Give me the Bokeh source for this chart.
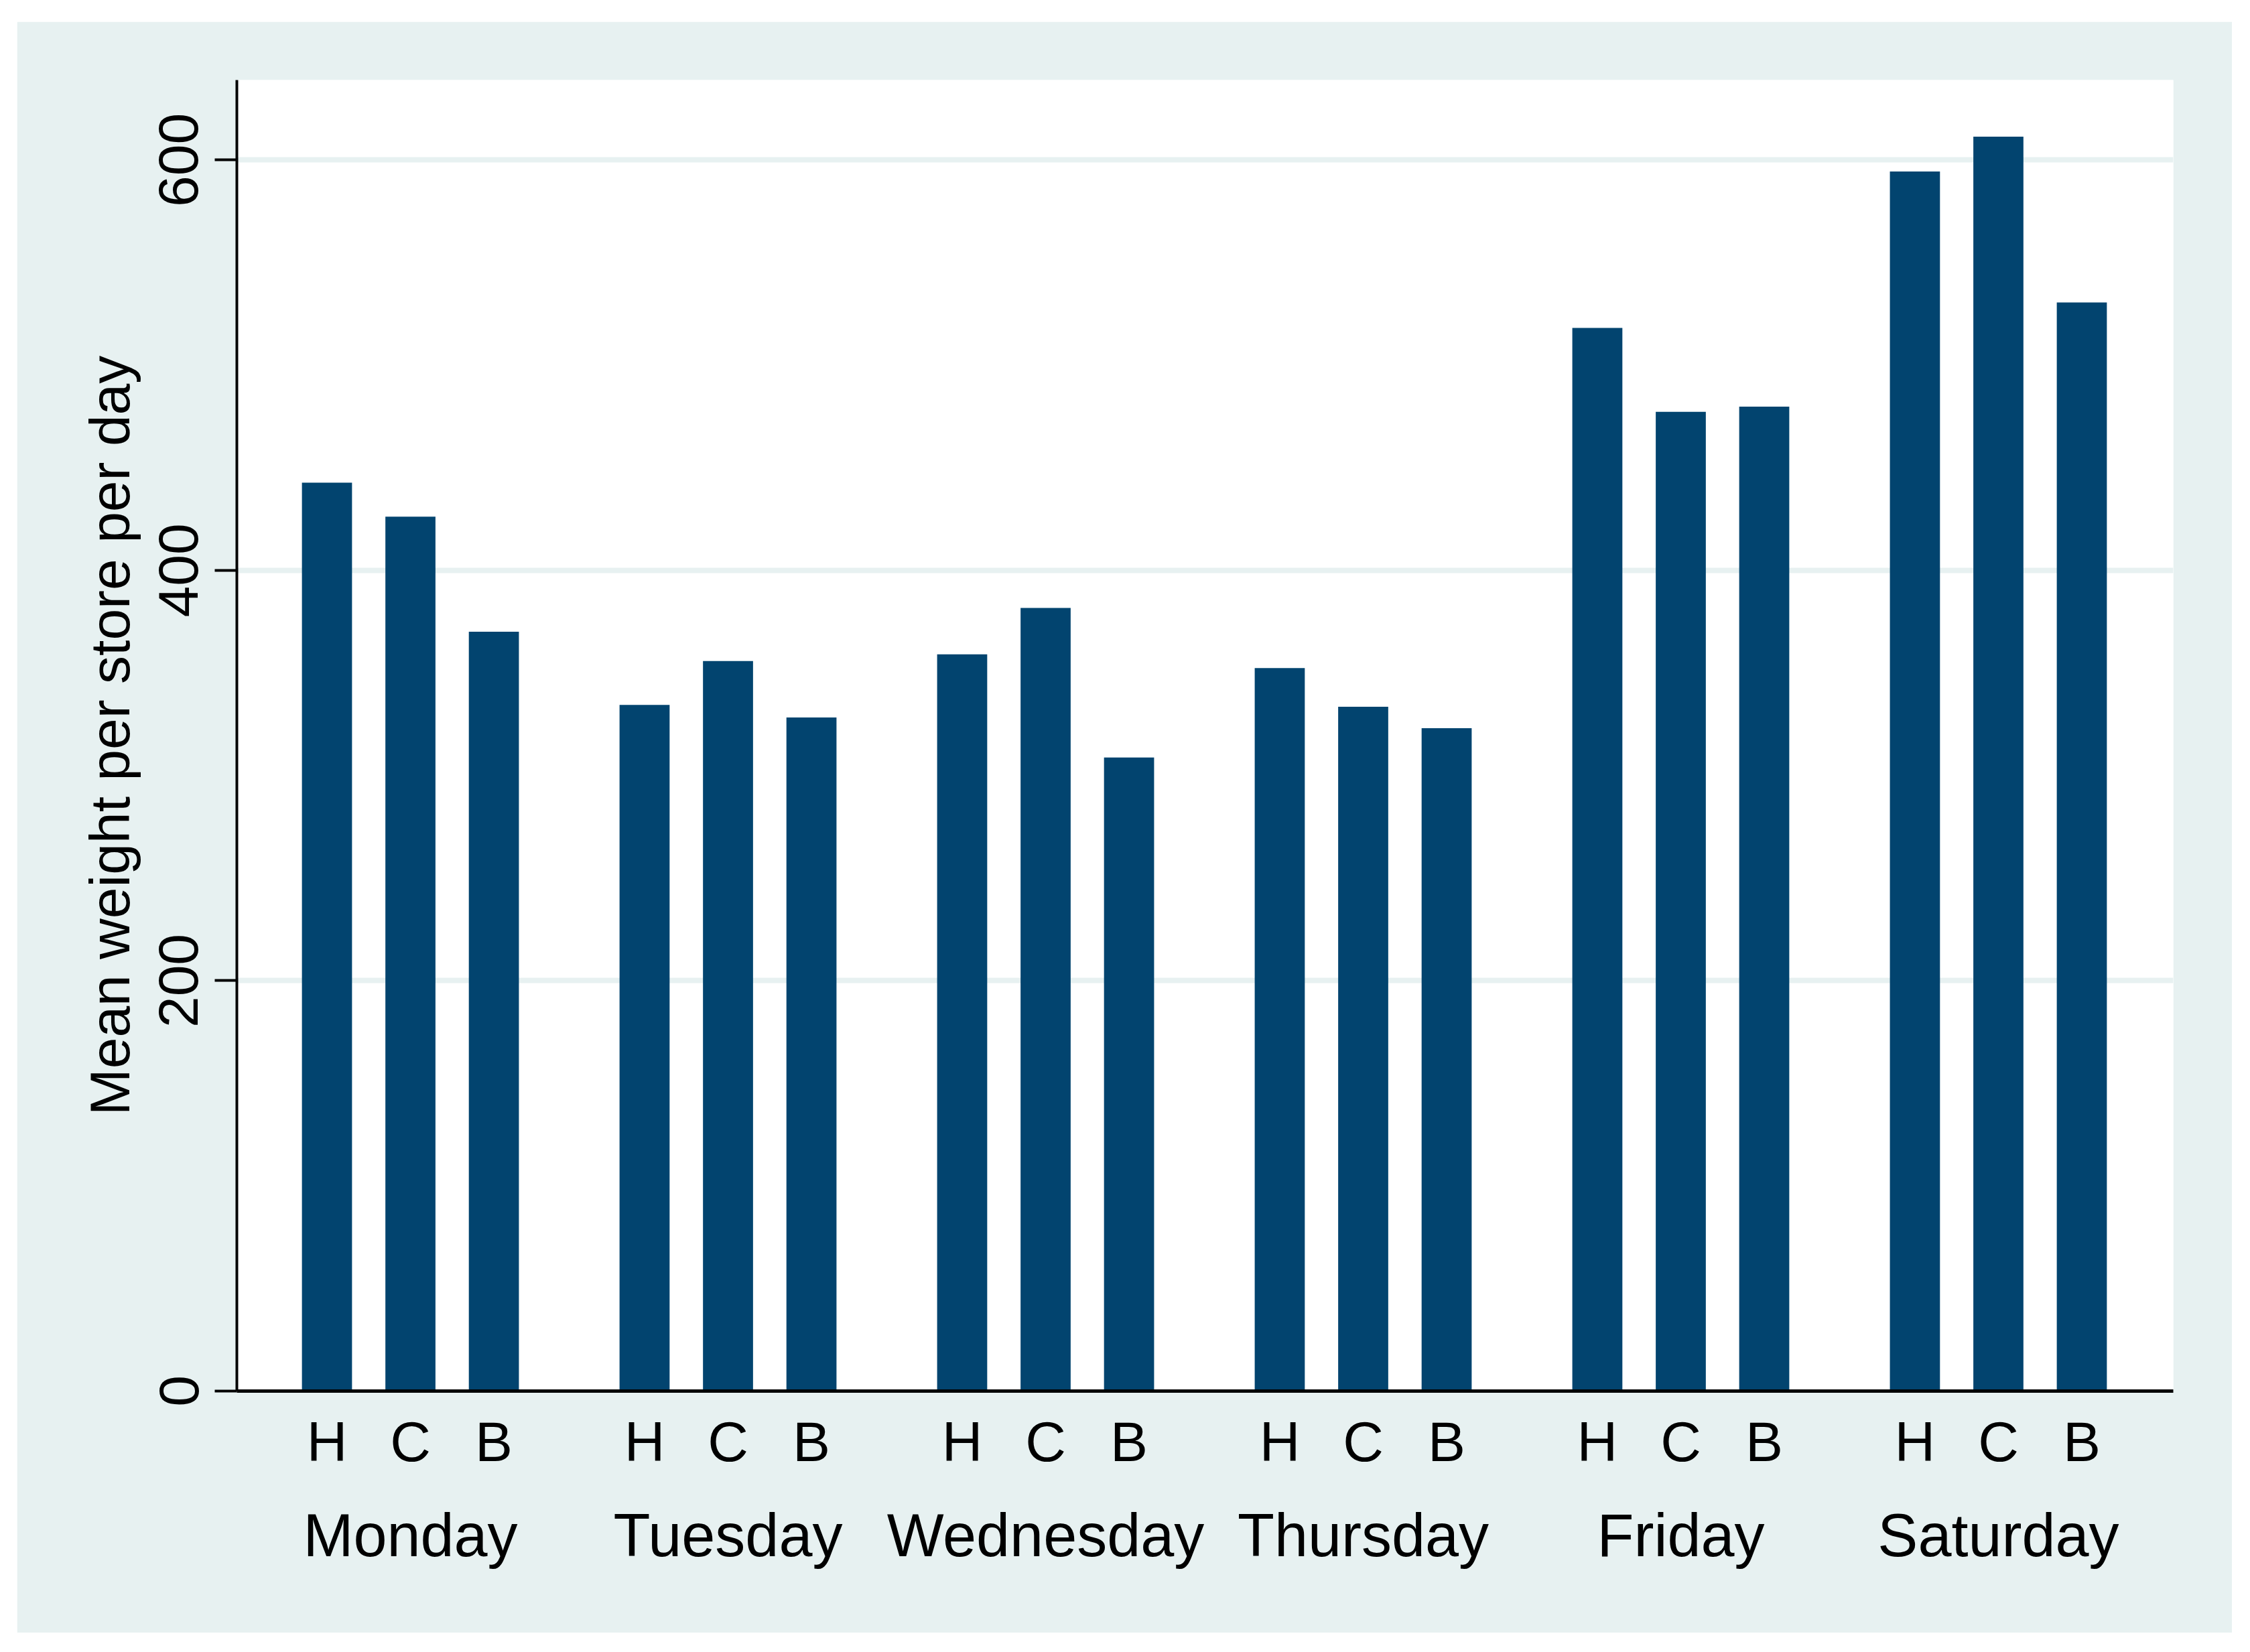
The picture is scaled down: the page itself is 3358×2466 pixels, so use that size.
from bokeh.plotting import figure
from bokeh.models import Range1d, LinearAxis, FixedTicker, Grid, ColumnDataSource
from bokeh.embed import file_html
from bokeh.resources import INLINE

# ---- data ----
days = ["Monday", "Tuesday", "Wednesday", "Thursday", "Friday", "Saturday"]
stores = ["H", "C", "B"]
monday = [442.8, 426.2, 370.1]
tuesday = [334.4, 355.8, 328.3]
wednesday = [359.1, 381.7, 308.8]
thursday = [352.4, 333.5, 323.1]
friday = [518.2, 477.3, 479.8]
saturday = [594.4, 611.4, 530.6]
y_ticks = [0, 200, 400, 600]
y_title = "Mean weight per store per day"

series = [monday, tuesday, wednesday, thursday, friday, saturday]

# ---- style ----
PANEL = "#E7F1F1"
BAR = "#02446F"
FONT = "Liberation Sans"
GROUP_STEP = 3.806
BAR_W = 0.60

xs, tops, labels = [], [], []
for g, vals in enumerate(series):
    for i, v in enumerate(vals):
        xs.append(round(g * GROUP_STEP + i, 4))
        tops.append(v)
        labels.append(stores[i])
centers = [round(g * GROUP_STEP + 1, 4) for g in range(len(days))]

p = figure(width=3306, height=2405, output_backend="svg", toolbar_location=None,
           x_range=Range1d(-1.080, 5 * GROUP_STEP + 2 + 1.096),
           y_range=Range1d(0, 639),
           x_axis_type=None, y_axis_type=None,
           min_border_left=328, min_border_right=88,
           min_border_top=87, min_border_bottom=361)
p.margin = (32, 0, 0, 25)
p.background_fill_color = "white"
p.border_fill_color = PANEL
p.outline_line_color = None

p.add_layout(Grid(dimension=1, ticker=FixedTicker(ticks=y_ticks),
                  grid_line_color=PANEL, grid_line_width=8))

src = ColumnDataSource(dict(x=xs, top=tops, label=labels))
p.vbar(x="x", top="top", bottom=0, width=BAR_W, source=src,
       fill_color=BAR, line_color=None)

# y axis
yax = LinearAxis(ticker=FixedTicker(ticks=y_ticks), axis_label=y_title)
yax.axis_line_width = 4
yax.axis_line_color = "black"
yax.major_tick_out = 33
yax.major_tick_in = 0
yax.major_tick_line_width = 4
yax.minor_tick_line_color = None
yax.major_label_orientation = "vertical"
yax.major_label_text_font = FONT
yax.major_label_text_font_size = "84px"
yax.major_label_text_color = "black"
yax.major_label_standoff = 25
yax.axis_label_text_font = FONT
yax.axis_label_text_font_size = "84px"
yax.axis_label_text_font_style = "normal"
yax.axis_label_text_color = "black"
yax.axis_label_standoff = 24
p.add_layout(yax, "left")

# x axis: store letters
xax = LinearAxis(ticker=FixedTicker(ticks=xs),
                 major_label_overrides={x: l for x, l in zip(xs, labels)})
xax.axis_line_width = 5
xax.axis_line_color = "black"
xax.major_tick_line_color = None
xax.major_tick_out = 0
xax.major_tick_in = 0
xax.minor_tick_line_color = None
xax.major_label_text_font = FONT
xax.major_label_text_font_size = "84px"
xax.major_label_text_color = "black"
xax.major_label_standoff = 28
p.add_layout(xax, "below")

# x axis: day names
dax = LinearAxis(ticker=FixedTicker(ticks=centers),
                 major_label_overrides={c: d for c, d in zip(centers, days)})
dax.axis_line_color = None
dax.major_tick_line_color = None
dax.major_tick_out = 0
dax.major_tick_in = 0
dax.minor_tick_line_color = None
dax.major_label_text_font = FONT
dax.major_label_text_font_size = "90px"
dax.major_label_text_color = "black"
dax.major_label_standoff = 40
p.add_layout(dax, "below")

open("out.html", "w").write(file_html(p, INLINE))
